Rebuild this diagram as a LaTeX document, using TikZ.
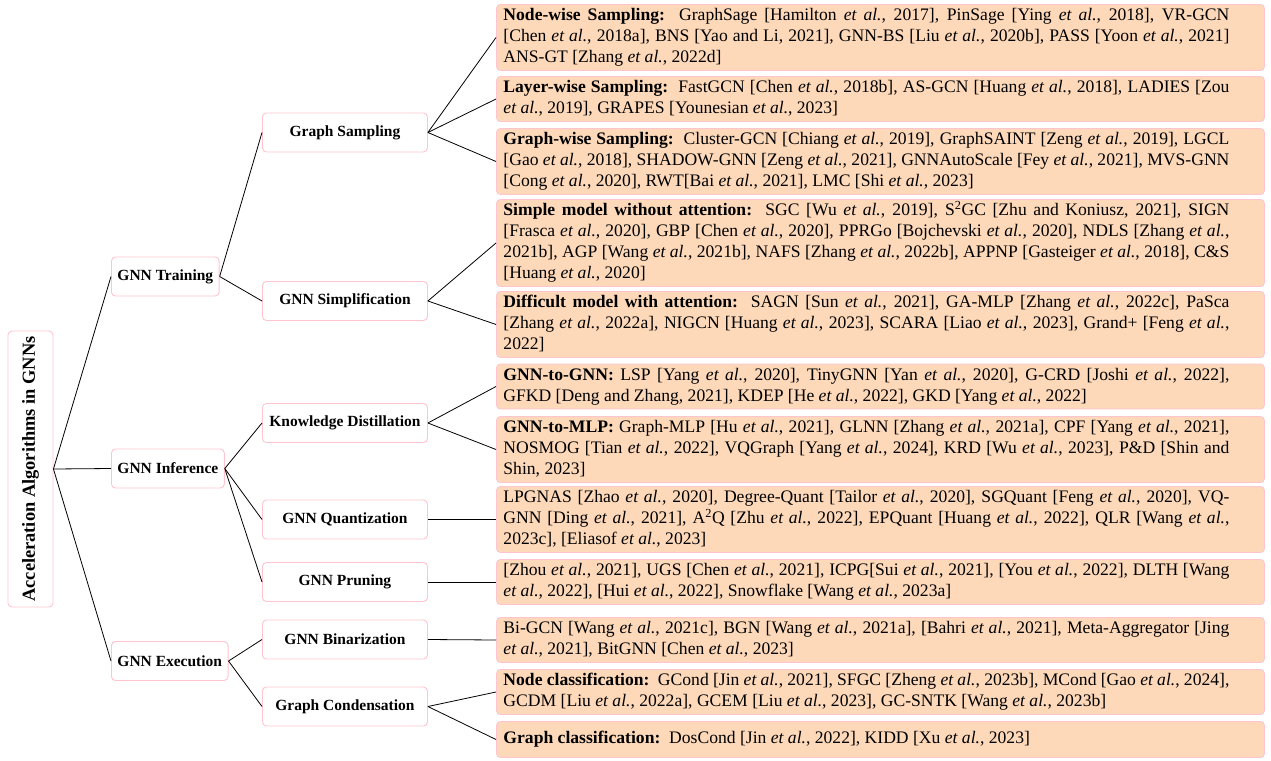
\documentclass[tikz,border=0pt]{standalone}
\usepackage{fontspec}
\setmainfont{Liberation Serif}
\definecolor{leaffill}{RGB}{253,217,186}
\definecolor{boxborder}{RGB}{255,196,206}
\newcommand{\etalx}{\textit{et al.}}
\newcommand{\jl}[1]{\hbox to 726pt{\strut#1}}
\newcommand{\lastln}[1]{\hbox to 726pt{\strut#1\hfil}}
\newcommand{\leaftxt}[1]{\hbox to 754pt{\vbox{#1}\hfil}}
\hbadness=10000
\hfuzz=40pt
\begin{document}
\begin{tikzpicture}[x=1pt,y=-1pt,
  edge/.style={draw=black,line width=0.8pt},
  rootbox/.style={draw=boxborder,fill=white,line width=0.9pt,rounded corners=4pt,rotate=90,
    minimum width=276pt,minimum height=45pt,inner sep=0pt,
    font=\fontsize{18.4}{22}\selectfont\bfseries},
  lvlone/.style={draw=boxborder,fill=white,line width=0.9pt,rounded corners=4pt,anchor=west,
    minimum height=39pt,inner xsep=6pt,inner ysep=0pt,
    font=\fontsize{15.5}{19}\selectfont\bfseries},
  lvltwo/.style={draw=boxborder,fill=white,line width=0.9pt,rounded corners=4pt,anchor=west,
    minimum width=165pt,minimum height=39pt,inner sep=0pt,
    font=\fontsize{15.5}{19}\selectfont\bfseries},
  leafbox/.style={draw=boxborder,fill=leaffill,line width=0.9pt,rounded corners=4pt,anchor=west,
    minimum height=36pt,inner xsep=7pt,inner ysep=1.5pt,
    font=\fontsize{17.6}{21}\selectfont}
]
\useasboundingbox (0,0) rectangle (1271,760);

% root
\node[rootbox] (root) at (30.5,469) {Acceleration Algorithms in GNNs};

% level 1
\node[lvlone] (train) at (111,276.5) {GNN Training};
\node[lvlone] (infer) at (111,468.5) {GNN Inference};
\node[lvlone] (exec) at (111,661) {GNN Execution};

% level 2
\node[lvltwo] (samp) at (262,132.5) {Graph Sampling};
\node[lvltwo] (simp) at (262,301) {GNN Simplification};
\node[lvltwo] (kd) at (262,423) {Knowledge Distillation};
\node[lvltwo] (quant) at (262,519.5) {GNN Quantization};
\node[lvltwo] (prun) at (262,582) {GNN Pruning};
\node[lvltwo] (bina) at (262,639.5) {GNN Binarization};
\node[lvltwo] (cond) at (262,706.5) {Graph Condensation};

% leaves
\node[leafbox] (l1) at (496,37.5) {\leaftxt{%
\jl{\textbf{Node-wise Sampling:}\ \ GraphSage [Hamilton \etalx, 2017], PinSage [Ying \etalx, 2018], VR-GCN}%
\jl{[Chen \etalx, 2018a], BNS [Yao and Li, 2021], GNN-BS [Liu \etalx, 2020b], PASS [Yoon \etalx, 2021]}%
\lastln{ANS-GT [Zhang \etalx, 2022d]}}};
\node[leafbox] (l2) at (496,99) {\leaftxt{%
\jl{\textbf{Layer-wise Sampling:}\ \ FastGCN [Chen \etalx, 2018b], AS-GCN [Huang \etalx, 2018], LADIES [Zou}%
\lastln{\etalx, 2019], GRAPES [Younesian \etalx, 2023]}}};
\node[leafbox] (l3) at (496,161.5) {\leaftxt{%
\jl{\textbf{Graph-wise Sampling:}\ \ Cluster-GCN [Chiang \etalx, 2019], GraphSAINT [Zeng \etalx, 2019], LGCL}%
\jl{[Gao \etalx, 2018], SHADOW-GNN [Zeng \etalx, 2021], GNNAutoScale [Fey \etalx, 2021], MVS-GNN}%
\lastln{[Cong \etalx, 2020], RWT[Bai \etalx, 2021], LMC [Shi \etalx, 2023]}}};
\node[leafbox] (l4) at (496,243) {\leaftxt{%
\jl{\textbf{Simple model without attention:}\ \ SGC [Wu \etalx, 2019], S\textsuperscript{2}GC [Zhu and Koniusz, 2021], SIGN}%
\jl{[Frasca \etalx, 2020], GBP [Chen \etalx, 2020], PPRGo [Bojchevski \etalx, 2020], NDLS [Zhang \etalx,}%
\jl{2021b], AGP [Wang \etalx, 2021b], NAFS [Zhang \etalx, 2022b], APPNP [Gasteiger \etalx, 2018], C\&S}%
\lastln{[Huang \etalx, 2020]}}};
\node[leafbox] (l5) at (496,324.5) {\leaftxt{%
\jl{\textbf{Difficult model with attention:}\ \ SAGN [Sun \etalx, 2021], GA-MLP [Zhang \etalx, 2022c], PaSca}%
\jl{[Zhang \etalx, 2022a], NIGCN [Huang \etalx, 2023], SCARA [Liao \etalx, 2023], Grand+ [Feng \etalx,}%
\lastln{2022]}}};
\node[leafbox] (l6) at (496,386.5) {\leaftxt{%
\jl{\textbf{GNN-to-GNN:} LSP [Yang \etalx, 2020], TinyGNN [Yan \etalx, 2020], G-CRD [Joshi \etalx, 2022],}%
\lastln{GFKD [Deng and Zhang, 2021], KDEP [He \etalx, 2022], GKD [Yang \etalx, 2022]}}};
\node[leafbox] (l7) at (496,449.5) {\leaftxt{%
\jl{\textbf{GNN-to-MLP:} Graph-MLP [Hu \etalx, 2021], GLNN [Zhang \etalx, 2021a], CPF [Yang \etalx, 2021],}%
\jl{NOSMOG [Tian \etalx, 2022], VQGraph [Yang \etalx, 2024], KRD [Wu \etalx, 2023], P\&D [Shin and}%
\lastln{Shin, 2023]}}};
\node[leafbox] (l8) at (496,519.5) {\leaftxt{%
\jl{LPGNAS [Zhao \etalx, 2020], Degree-Quant [Tailor \etalx, 2020], SGQuant [Feng \etalx, 2020], VQ-}%
\jl{GNN [Ding \etalx, 2021], A\textsuperscript{2}Q [Zhu \etalx, 2022], EPQuant [Huang \etalx, 2022], QLR [Wang \etalx,}%
\lastln{2023c], [Eliasof \etalx, 2023]}}};
\node[leafbox] (l9) at (496,582) {\leaftxt{%
\jl{[Zhou \etalx, 2021], UGS [Chen \etalx, 2021], ICPG[Sui \etalx, 2021], [You \etalx, 2022], DLTH [Wang}%
\lastln{\etalx, 2022], [Hui \etalx, 2022], Snowflake [Wang \etalx, 2023a]}}};
\node[leafbox] (l10) at (496,640) {\leaftxt{%
\jl{Bi-GCN [Wang \etalx, 2021c], BGN [Wang \etalx, 2021a], [Bahri \etalx, 2021], Meta-Aggregator [Jing}%
\lastln{\etalx, 2021], BitGNN [Chen \etalx, 2023]}}};
\node[leafbox] (l11) at (496,692) {\leaftxt{%
\jl{\textbf{Node classification:}\ \ GCond [Jin \etalx, 2021], SFGC [Zheng \etalx, 2023b], MCond [Gao \etalx, 2024],}%
\lastln{GCDM [Liu \etalx, 2022a], GCEM [Liu \etalx, 2023], GC-SNTK [Wang \etalx, 2023b]}}};
\node[leafbox] (l12) at (496,739.5) {\leaftxt{%
\lastln{\textbf{Graph classification:}\ \ DosCond [Jin \etalx, 2022], KIDD [Xu \etalx, 2023]}}};

% edges
\draw[edge] (root.south) -- (train.west);
\draw[edge] (root.south) -- (infer.west);
\draw[edge] (root.south) -- (exec.west);
\draw[edge] (train.east) -- (samp.west);
\draw[edge] (train.east) -- (simp.west);
\draw[edge] (infer.east) -- (kd.west);
\draw[edge] (infer.east) -- (quant.west);
\draw[edge] (infer.east) -- (prun.west);
\draw[edge] (exec.east) -- (bina.west);
\draw[edge] (exec.east) -- (cond.west);
\draw[edge] (samp.east) -- (l1.west);
\draw[edge] (samp.east) -- (l2.west);
\draw[edge] (samp.east) -- (l3.west);
\draw[edge] (simp.east) -- (l4.west);
\draw[edge] (simp.east) -- (l5.west);
\draw[edge] (kd.east) -- (l6.west);
\draw[edge] (kd.east) -- (l7.west);
\draw[edge] (quant.east) -- (l8.west);
\draw[edge] (prun.east) -- (l9.west);
\draw[edge] (bina.east) -- (l10.west);
\draw[edge] (cond.east) -- (l11.west);
\draw[edge] (cond.east) -- (l12.west);
\end{tikzpicture}
\end{document}
